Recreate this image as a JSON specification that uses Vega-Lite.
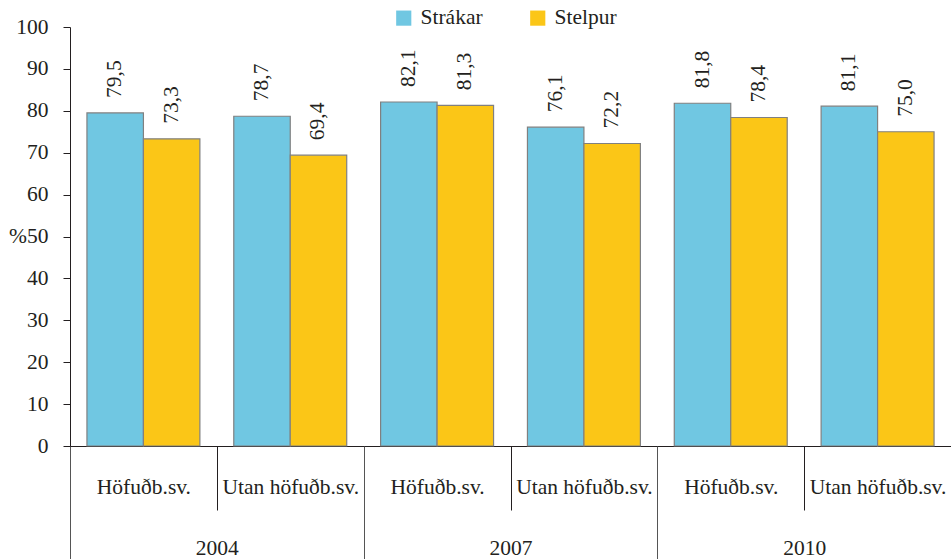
{
  "$schema": "https://vega.github.io/schema/vega-lite/v6.json",
  "width": 881,
  "height": 419,
  "autosize": {"type": "none"},
  "padding": {"left": 70, "top": 27, "right": 0, "bottom": 113},
  "background": "white",
  "config": {
    "view": {"stroke": null},
    "locale": {"number": {"decimal": ",", "thousands": ".", "grouping": [3], "currency": ["", ""]}},
    "font": "Liberation Serif",
    "axis": {"labelFont": "Liberation Serif", "labelColor": "#231F20", "grid": false}
  },
  "data": {
    "values": [
      {"grp": "2004 Höfuðb.sv.", "year": "2004", "kyn": "Strákar", "v": 79.5},
      {"grp": "2004 Höfuðb.sv.", "year": "2004", "kyn": "Stelpur", "v": 73.3},
      {"grp": "2004 Utan höfuðb.sv.", "year": "2004", "kyn": "Strákar", "v": 78.7},
      {"grp": "2004 Utan höfuðb.sv.", "year": "2004", "kyn": "Stelpur", "v": 69.4},
      {"grp": "2007 Höfuðb.sv.", "year": "2007", "kyn": "Strákar", "v": 82.1},
      {"grp": "2007 Höfuðb.sv.", "year": "2007", "kyn": "Stelpur", "v": 81.3},
      {"grp": "2007 Utan höfuðb.sv.", "year": "2007", "kyn": "Strákar", "v": 76.1},
      {"grp": "2007 Utan höfuðb.sv.", "year": "2007", "kyn": "Stelpur", "v": 72.2},
      {"grp": "2010 Höfuðb.sv.", "year": "2010", "kyn": "Strákar", "v": 81.8},
      {"grp": "2010 Höfuðb.sv.", "year": "2010", "kyn": "Stelpur", "v": 78.4},
      {"grp": "2010 Utan höfuðb.sv.", "year": "2010", "kyn": "Strákar", "v": 81.1},
      {"grp": "2010 Utan höfuðb.sv.", "year": "2010", "kyn": "Stelpur", "v": 75.0}
    ]
  },
  "layer": [
    {
      "encoding": {
        "x": {
          "field": "grp", "type": "nominal", "sort": null,
          "scale": {"paddingInner": 0, "paddingOuter": 0},
          "axis": {
            "title": null, "orient": "bottom", "labelAngle": 0,
            "labelExpr": "slice(datum.label, 5)",
            "tickBand": "extent", "tickSize": 64, "tickColor": "#231F20",
            "labelPadding": -34, "labelFontSize": 21.5,
            "domain": true, "domainColor": "#231F20", "labelBound": false
          }
        },
        "xOffset": {"field": "kyn", "type": "nominal", "sort": ["Strákar", "Stelpur"],
          "scale": {"paddingInner": 0, "paddingOuter": 0.3}},
        "y": {
          "field": "v", "type": "quantitative",
          "scale": {"domain": [0, 100], "nice": false},
          "axis": {
            "title": null, "values": [0, 10, 20, 30, 40, 50, 60, 70, 80, 90, 100],
            "labelExpr": "datum.value == 50 ? '%50' : datum.label",
            "labelFontSize": 21.5, "tickSize": 7, "labelPadding": 15,
            "tickColor": "#231F20", "domainColor": "#231F20"
          }
        }
      },
      "layer": [
        {
          "mark": {"type": "bar", "stroke": "#808080", "strokeWidth": 1.2},
          "encoding": {
            "color": {
              "field": "kyn", "type": "nominal", "sort": ["Strákar", "Stelpur"],
              "scale": {"domain": ["Strákar", "Stelpur"], "range": ["#70C7E2", "#FBC617"]},
              "legend": {
                "title": null, "orient": "none", "direction": "horizontal",
                "legendX": 323, "legendY": -20, "padding": 0,
                "symbolType": "square", "symbolSize": 230, "symbolStrokeWidth": 0,
                "labelFont": "Liberation Serif", "labelFontSize": 21.5, "labelColor": "#231F20",
                "labelOffset": 6, "columnPadding": 44
              }
            }
          }
        },
        {
          "mark": {"type": "text", "angle": 270, "align": "left", "baseline": "middle",
            "dx": 15, "fontSize": 21.5, "font": "Liberation Serif", "color": "#231F20"},
          "encoding": {
            "text": {"field": "v", "type": "quantitative", "format": ".1f"}
          }
        }
      ]
    },
    {
      "mark": {"type": "text", "opacity": 0},
      "encoding": {
        "x": {
          "field": "year", "type": "nominal", "sort": null,
          "scale": {"paddingInner": 0, "paddingOuter": 0},
          "axis": {
            "title": null, "orient": "bottom", "offset": 0, "labelAngle": 0,
            "tickBand": "extent", "tickSize": 113, "tickColor": "#555555",
            "labelPadding": -22, "labelFontSize": 21.5, "domain": false
          }
        },
        "text": {"field": "year"}
      }
    }
  ],
  "resolve": {"scale": {"x": "independent"}, "axis": {"x": "independent"}}
}
